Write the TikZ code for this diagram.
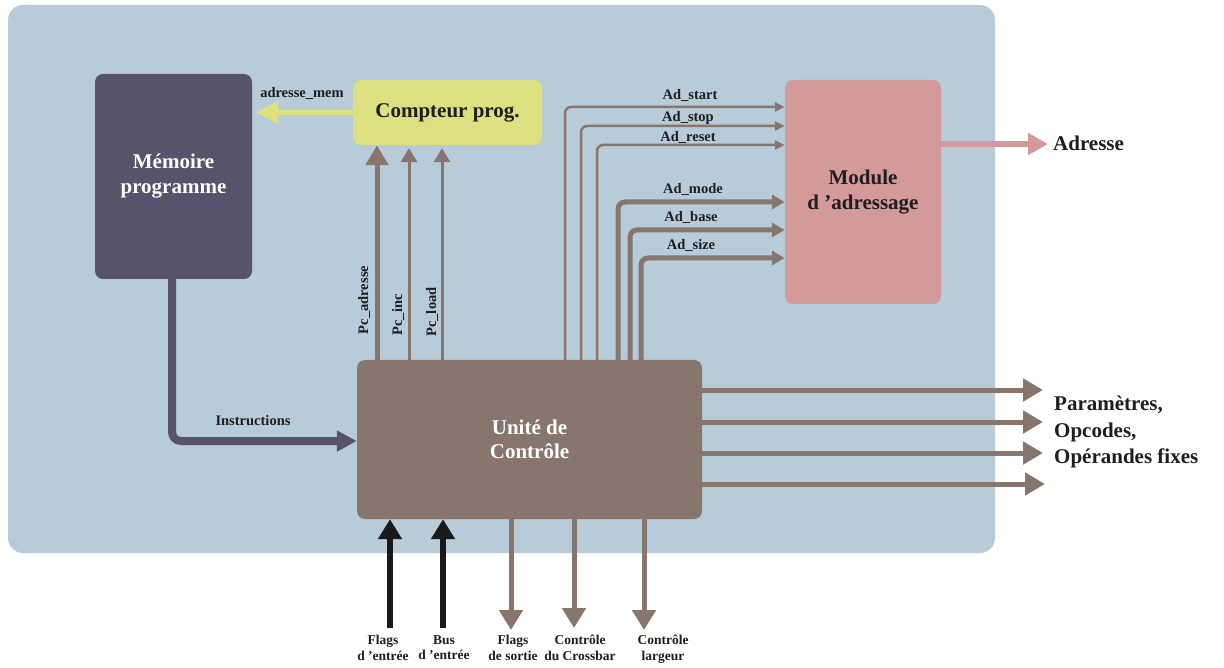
\documentclass[tikz,border=0pt]{standalone}
\usepackage{fontspec}
\setmainfont{Liberation Serif}
\usetikzlibrary{arrows.meta,calc}
\definecolor{bg}{RGB}{184,203,216}
\definecolor{memc}{RGB}{88,83,108}
\definecolor{cpc}{RGB}{221,224,128}
\definecolor{modc}{RGB}{212,153,154}
\definecolor{ucc}{RGB}{134,118,110}
\definecolor{txt}{RGB}{30,30,30}
\definecolor{blk}{RGB}{25,25,25}
\begin{document}
\begin{tikzpicture}[x=1pt,y=-1pt,
  blockbox/.style={rectangle,rounded corners=8pt,inner sep=0pt,align=center,font=\fontsize{21}{25}\selectfont\bfseries},
  small/.style={font=\fontsize{14.5}{17}\selectfont\bfseries,text=txt,inner sep=0pt},
  tiny/.style={font=\fontsize{13.5}{15.5}\selectfont\bfseries,text=txt,inner sep=0pt,align=center,anchor=north},
  big/.style={font=\fontsize{21}{26.5}\selectfont\bfseries,text=txt,inner sep=0pt,align=left},
  thinarr/.style={draw=ucc,line width=2.5pt,rounded corners=6pt,-{Triangle[length=10pt,width=9pt]}},
  thickarr/.style={draw=ucc,line width=5pt,rounded corners=7pt,-{Triangle[length=13pt,width=14pt]}},
  pcthin/.style={draw=ucc,line width=3pt,-{Triangle[length=14pt,width=16pt]}},
  bigarr/.style={line width=5pt,-{Triangle[length=20pt,width=22pt]}}
]
\useasboundingbox (0,0) rectangle (1224,668);
\fill[bg, rounded corners=15pt] (8,5) rectangle (995,553);

% blocks
\node[blockbox,fill=memc,text=white,minimum width=157pt,minimum height=205pt] (mem) at (173.5,176.5) {Mémoire\\programme};
\node[blockbox,fill=cpc,text=txt,minimum width=189pt,minimum height=65pt] (cp) at (447.5,112.5) {Compteur prog.};
\node[blockbox,fill=modc,text=txt,minimum width=156pt,minimum height=224pt] (mod) at (863,192) {Module\\d ’adressage};
\node[blockbox,fill=ucc,text=white,minimum width=345pt,minimum height=159pt,font=\fontsize{21}{23.5}\selectfont\bfseries] (uc) at (529.5,439.5) {Unité de\\Contrôle};

% adresse_mem
\draw[draw=cpc,line width=4.5pt,shorten >=4pt,-{Triangle[length=22pt,width=22pt]}] (cp.west) -- (mem.east |- cp.west);
\node[small] (lam) at (302,93) {adresse\_mem};

% Pc arrows
\coordinate (xpa) at (377,0);
\coordinate (xpi) at (409,0);
\coordinate (xpl) at (442,0);
\draw[draw=ucc,bigarr] (uc.north -| xpa) -- (cp.south -| xpa);
\draw[pcthin,shorten >=3pt] (uc.north -| xpi) -- (cp.south -| xpi);
\draw[pcthin,shorten >=3pt] (uc.north -| xpl) -- (cp.south -| xpl);
\node[small,rotate=90] (lpa) at (364,300) {Pc\_adresse};
\node[small,rotate=90] (lpi) at (398,315) {Pc\_inc};
\node[small,rotate=90] (lpl) at (432,312) {Pc\_load};

% Ad arrows
\coordinate (as) at (565,107);
\coordinate (ao) at (581,126);
\coordinate (ar) at (597,145);
\coordinate (am) at (618,202);
\coordinate (ab) at (630,230);
\coordinate (az) at (641,258);
\draw[thinarr] (uc.north -| as) |- (mod.west |- as);
\draw[thinarr] (uc.north -| ao) |- (mod.west |- ao);
\draw[thinarr] (uc.north -| ar) |- (mod.west |- ar);
\draw[thickarr] (uc.north -| am) |- (mod.west |- am);
\draw[thickarr] (uc.north -| ab) |- (mod.west |- ab);
\draw[thickarr] (uc.north -| az) |- (mod.west |- az);
\node[small] (las) at (690,95) {Ad\_start};
\node[small] (lao) at (688,118) {Ad\_stop};
\node[small] (lar) at (688,137) {Ad\_reset};
\node[small] (lamo) at (693,189) {Ad\_mode};
\node[small] (lab) at (691,217) {Ad\_base};
\node[small] (laz) at (691,245) {Ad\_size};

% Adresse output
\coordinate (adt) at (1048,144);
\draw[draw=modc,line width=6pt,-{Triangle[length=20pt,width=21pt]}] (mod.east |- adt) -- (adt);
\node[big,anchor=west] (ladr) at (1053,143) {Adresse};

% Instructions
\coordinate (ins) at (172,441);
\draw[draw=memc,line width=8pt,rounded corners=9pt,-{Triangle[length=20pt,width=20pt]}] (mem.south -| ins) |- (uc.west |- ins);
\node[small] (lins) at (253,421) {Instructions};

% right outputs
\coordinate (r1) at (1043,390);
\coordinate (r2) at (1043,422);
\coordinate (r3) at (1043,453);
\coordinate (r4) at (1045,484);
\draw[draw=ucc,bigarr] (uc.east |- r1) -- (r1);
\draw[draw=ucc,bigarr] (uc.east |- r2) -- (r2);
\draw[draw=ucc,bigarr] (uc.east |- r3) -- (r3);
\draw[draw=ucc,bigarr] (uc.east |- r4) -- (r4);
\node[big,anchor=west] (lpar) at (1054,432) {Paramètres,\\Opcodes,\\Opérandes fixes};

% bottom inputs
\coordinate (fe) at (390,628);
\coordinate (be) at (443,628);
\draw[draw=blk,line width=6pt,-{Triangle[length=20pt,width=23pt]}] (fe) -- (uc.south -| fe);
\draw[draw=blk,line width=6pt,-{Triangle[length=20pt,width=23pt]}] (be) -- (uc.south -| be);
% bottom outputs
\coordinate (fs) at (511,630);
\coordinate (cc) at (574,628);
\coordinate (cl) at (644,630);
\draw[draw=ucc,line width=5pt,-{Triangle[length=20pt,width=23pt]}] (uc.south -| fs) -- (fs);
\draw[draw=ucc,line width=5pt,-{Triangle[length=20pt,width=23pt]}] (uc.south -| cc) -- (cc);
\draw[draw=ucc,line width=5pt,-{Triangle[length=20pt,width=23pt]}] (uc.south -| cl) -- (cl);

\node[tiny] (lfe) at (383,635) {Flags\\d ’entrée};
\node[tiny] (lbe) at (444,635) {Bus\\d ’entrée};
\node[tiny] (lfs) at (513,635) {Flags\\de sortie};
\node[tiny] (lcc) at (580,635) {Contrôle\\du Crossbar};
\node[tiny] (lcl) at (663,635) {Contrôle\\largeur};
\end{tikzpicture}
\end{document}
